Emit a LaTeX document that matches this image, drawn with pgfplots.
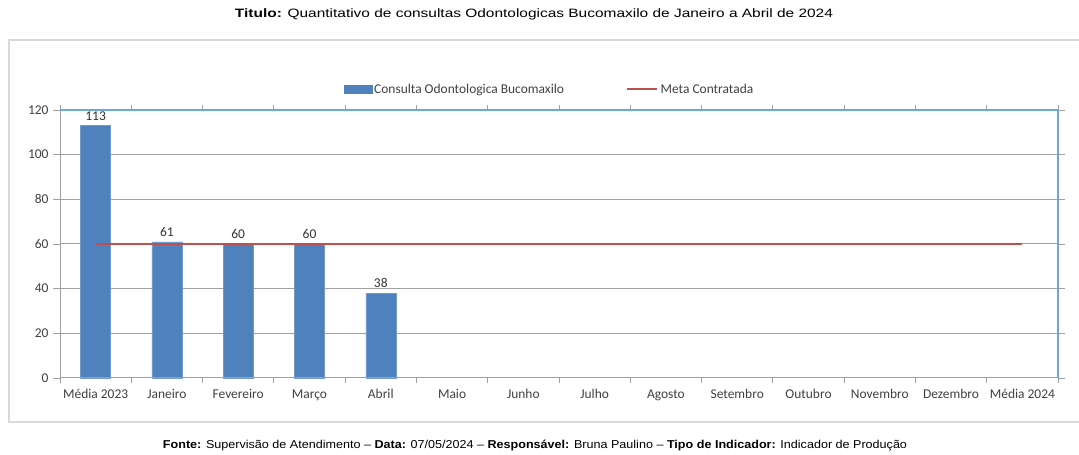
\documentclass[border=0pt]{standalone}
\usepackage{pgfplots}
\pgfplotsset{compat=1.18}
\usepackage{fontspec}
\setmainfont{Carlito}
\newfontfamily\arialf{Liberation Sans}
\definecolor{barblue}{HTML}{4F81BD}
\definecolor{metared}{HTML}{C0504D}
\definecolor{topblue}{HTML}{6AA8DD}
\definecolor{gridgray}{HTML}{A0A0A0}
\definecolor{txtgray}{HTML}{404040}
\definecolor{framegray}{HTML}{D9D9D9}
\begin{document}
\begin{tikzpicture}[x=1bp,y=1bp]
\path[use as bounding box] (0,0) rectangle (1079,455);
\draw[framegray, line width=1.8bp] (1079,415) -- (9,415) -- (9,33) -- (1079,33);
\node[anchor=base] at (534,437) {\resizebox{598bp}{8.8bp}{\arialf\fontsize{12}{14}\selectfont\textbf{Titulo:} Quantitativo de consultas Odontologicas Bucomaxilo de Janeiro a Abril de 2024}};
\node[anchor=base] at (535,6) {\resizebox{744bp}{8.4bp}{\arialf\fontsize{12}{14}\selectfont\textbf{Fonte:} Supervisão de Atendimento – \textbf{Data:} 07/05/2024 – \textbf{Responsável:} Bruna Paulino – \textbf{Tipo de Indicador:} Indicador de Produção}};
\begin{axis}[
  at={(60bp,77bp)}, anchor=south west,
  scale only axis, width=998bp, height=268bp,
  xmin=-0.5, xmax=13.5, ymin=0, ymax=120,
  xtick={0,...,13},
  xticklabels={Média 2023,Janeiro,Fevereiro,Março,Abril,Maio,Junho,Julho,Agosto,Setembro,Outubro,Novembro,Dezembro,Média 2024},
  minor xtick={-0.5,0.5,...,13.5},
  ytick={0,20,...,120},
  /pgf/number format/assume math mode=true,
  major x tick style={draw=none},
  minor tick length=5bp, major tick length=7bp,
  tick align=outside,
  tick style={gridgray, line width=0.9bp},
  ymajorgrids, grid style={gridgray, line width=1bp},
  axis line style={draw=none},
  ticklabel style={font=\fontsize{13.5}{15}\selectfont, text=txtgray},
  xticklabel style={yshift=-1bp},
  yticklabel style={xshift=-1bp},
  legend style={draw=none, fill=none, at={(0.4905,1.078)}, anchor=center,
    font=\fontsize{13.5}{15}\selectfont, text=txtgray, legend columns=2,
    /tikz/every even column/.append style={column sep=60bp}},
  legend cell align=left,
  clip=false,
]
\addplot[ybar, bar width=30bp, fill=barblue, draw=barblue!80!white,
  nodes near coords, every node near coord/.append style={font=\fontsize{13.5}{15}\selectfont, text=black!80, yshift=2bp},
  area legend,
  legend image code/.code={\fill[barblue] (0bp,-4bp) rectangle (28bp,4bp);}]
  coordinates {(0,113) (1,61) (2,60) (3,60) (4,38)};
\addlegendentry{Consulta Odontologica Bucomaxilo}
\addplot[metared, line width=2.5bp, mark=none,
  legend image code/.code={\draw[metared, line width=2.5bp] (0bp,0bp) -- (30bp,0bp);}]
  coordinates {(0,60) (1,60) (2,60) (3,60) (4,60) (5,60) (6,60) (7,60) (8,60) (9,60) (10,60) (11,60) (12,60) (13,60)};
\addlegendentry{Meta Contratada}
\draw[gridgray, line width=1bp] (rel axis cs:0,0) -- (rel axis cs:0,1);
\draw[gridgray, line width=1bp] (rel axis cs:0,0) -- (rel axis cs:1,0);
\draw[topblue, line width=1.4bp] (rel axis cs:0,1) -- (rel axis cs:1,1) -- (rel axis cs:1,0);
\end{axis}
\end{tikzpicture}
\end{document}
